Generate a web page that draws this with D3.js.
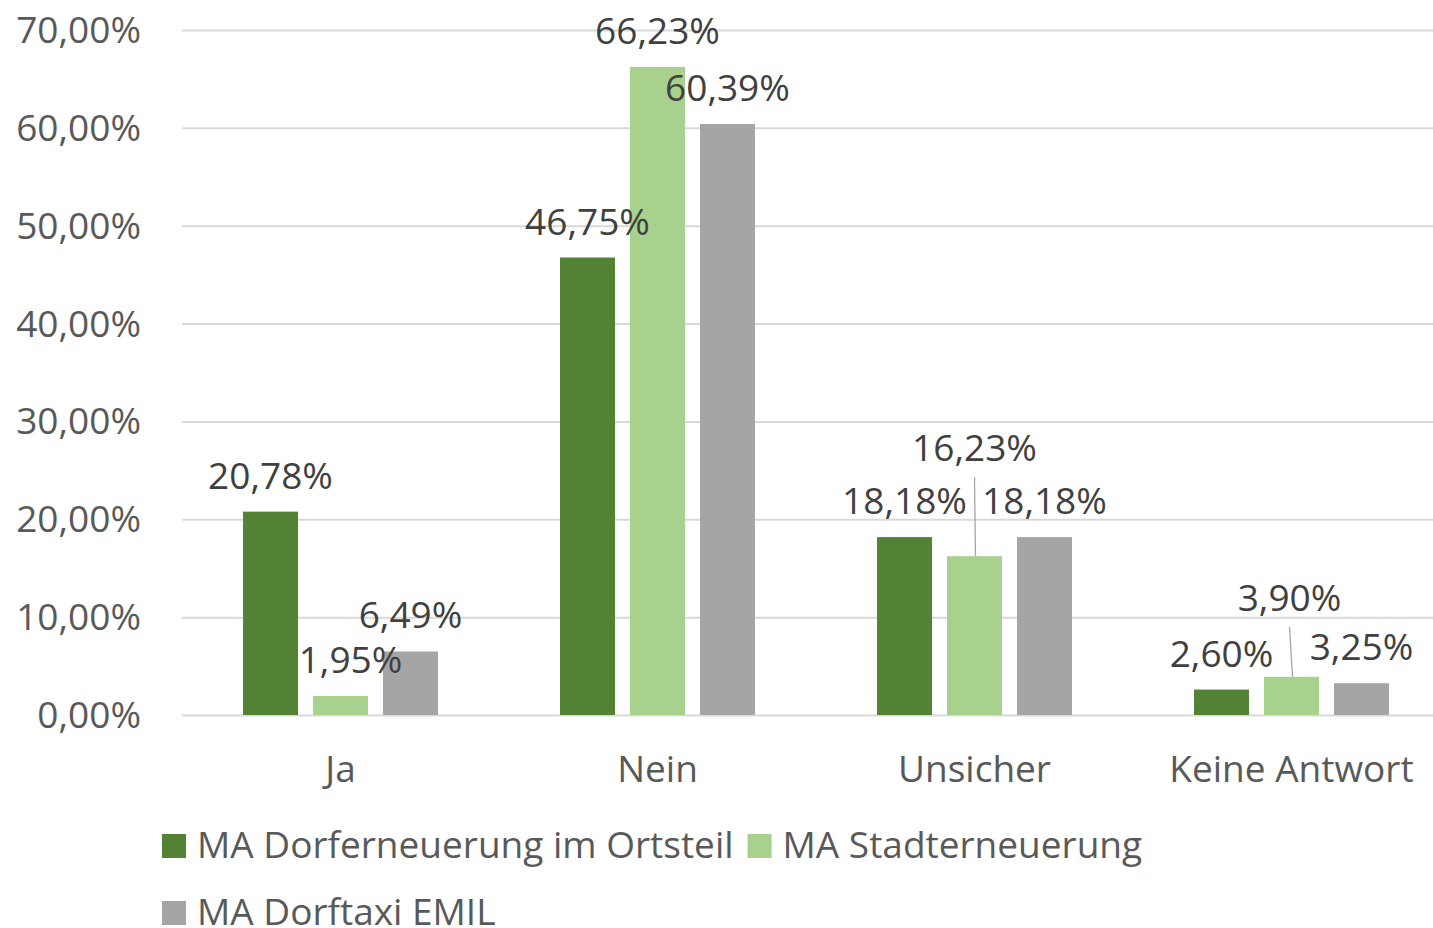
<!DOCTYPE html>
<html>
<head>
<meta charset="utf-8">
<script src="https://cdn.jsdelivr.net/npm/d3@7"></script>
<style>
  html, body { margin: 0; padding: 0; background: #fff; }
  svg { display: block; font-family: "Open Sans", "Noto Sans", sans-serif; }
</style>
</head>
<body>
<svg id="chart" width="1433" height="928"></svg>
<script>
const categories = ["Ja", "Nein", "Unsicher", "Keine Antwort"];
const seriesNames = ["MA Dorferneuerung im Ortsteil", "MA Stadterneuerung", "MA Dorftaxi EMIL"];
const dorferneuerung = [20.78, 46.75, 18.18, 2.60];
const stadterneuerung = [1.95, 66.23, 16.23, 3.90];
const dorftaxi = [6.49, 60.39, 18.18, 3.25];
const yTicks = [0, 10, 20, 30, 40, 50, 60, 70];
const colors = ["#548235", "#A9D18E", "#A5A5A5"];
// manual label nudges (px) as moved in the original, per series per category
const labelNudge = [
  [[0,0],[0,0],[0,0],[0,0]],
  [[10,0],[0,0],[0,-72],[-2,-43]],
  [[0,0],[0,0],[0,0],[0,0]]
];
const leaderLines = [[false,false,false,false],[false,false,true,true],[false,false,false,false]];

const values = [dorferneuerung, stadterneuerung, dorftaxi];
const svg = d3.select("#chart");
const fs = 37;

const x0 = d3.scaleBand().domain(categories).range([182, 1450]).paddingInner(0.385).paddingOuter(0.1925);
const x1 = d3.scaleBand().domain(d3.range(3)).range([0, x0.bandwidth()]).paddingInner(15/70).paddingOuter(0);
const y = d3.scaleLinear().domain([0, 70]).range([715, 30]);
const fmt = v => v.toFixed(2).replace(".", ",") + "%";

// y axis + gridlines
const yAxis = d3.axisLeft(y).tickValues(yTicks).tickSize(-(1450 - 182)).tickPadding(41)
  .tickFormat(d => d.toFixed(2).replace(".", ",") + "%");
const gy = svg.append("g").attr("transform", "translate(182,0)").call(yAxis);
gy.select(".domain").remove();
gy.selectAll(".tick line").attr("stroke", "#d9d9d9").attr("stroke-width", 2);
gy.selectAll(".tick text").attr("fill", "#595959").attr("font-size", fs)
  .attr("font-family", "'Open Sans', 'Noto Sans', sans-serif")
  .attr("dy", 12.5);

// x axis labels
const xAxis = d3.axisBottom(x0).tickSize(0).tickPadding(0);
const gx = svg.append("g").attr("transform", "translate(0,715)").call(xAxis);
gx.select(".domain").remove();
gx.selectAll(".tick text").attr("fill", "#595959").attr("font-size", fs)
  .attr("font-family", "'Open Sans', 'Noto Sans', sans-serif")
  .attr("y", 67).attr("dy", 0);

// bars
const rows = [];
values.forEach((arr, s) => arr.forEach((v, c) => rows.push({s, c, v, cat: categories[c]})));

svg.append("g").selectAll("rect").data(rows).join("rect")
  .attr("x", d => x0(d.cat) + x1(d.s))
  .attr("width", x1.bandwidth())
  .attr("y", d => y(d.v))
  .attr("height", d => y(0) - y(d.v))
  .attr("fill", d => colors[d.s]);

// leader lines
svg.append("g").selectAll("line").data(rows.filter(d => leaderLines[d.s][d.c])).join("line")
  .attr("x1", d => x0(d.cat) + x1(d.s) + x1.bandwidth() / 2 + labelNudge[d.s][d.c][0])
  .attr("y1", d => y(d.v) - 23 + labelNudge[d.s][d.c][1] + 16)
  .attr("x2", d => x0(d.cat) + x1(d.s) + x1.bandwidth() / 2 + 1)
  .attr("y2", d => y(d.v))
  .attr("stroke", "#a6a6a6").attr("stroke-width", 1.3);

// data labels
svg.append("g").selectAll("text").data(rows).join("text")
  .attr("x", d => x0(d.cat) + x1(d.s) + x1.bandwidth() / 2 + labelNudge[d.s][d.c][0])
  .attr("y", d => y(d.v) - 23 + labelNudge[d.s][d.c][1])
  .attr("text-anchor", "middle")
  .attr("font-size", fs)
  .attr("fill", "#404040")
  .text(d => fmt(d.v));

// legend
const legend = svg.append("g");
const legendRows = [[0, 1], [2]];
legendRows.forEach((row, r) => {
  let lx = 162;
  const baseY = 858 + r * 67;
  row.forEach(s => {
    legend.append("rect").attr("x", lx).attr("y", baseY - 24).attr("width", 24).attr("height", 24).attr("fill", colors[s]);
    const t = legend.append("text").attr("x", lx + 35).attr("y", baseY)
      .attr("font-size", fs).attr("fill", "#595959").text(seriesNames[s]);
    lx = lx + 35 + t.node().getComputedTextLength() + 14;
  });
});
</script>
</body>
</html>
